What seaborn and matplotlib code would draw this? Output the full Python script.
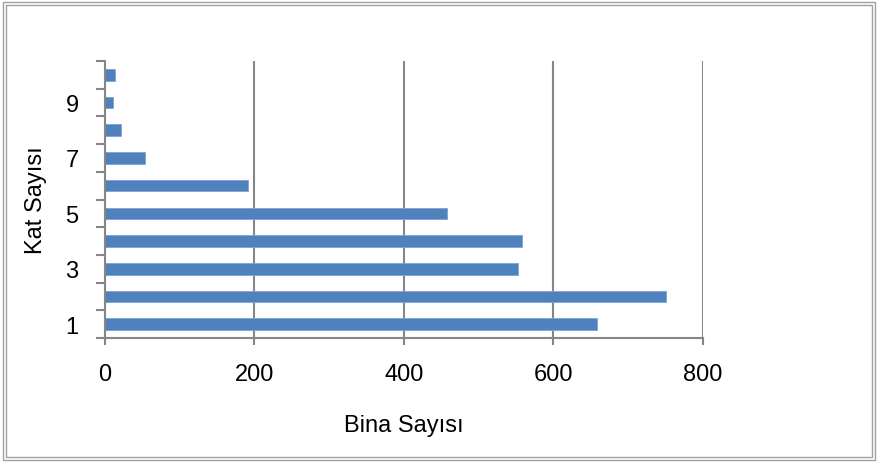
import matplotlib
matplotlib.use('Agg')
import pandas as pd
import seaborn as sns
import matplotlib.pyplot as plt
from matplotlib.patches import Rectangle

# data
floors = [1, 2, 3, 4, 5, 6, 7, 8, 9, 10]
counts = [658, 750, 552, 558, 457, 191, 53, 21, 11, 13]
x_ticks = [0, 200, 400, 600, 800]

df = pd.DataFrame({'kat': [str(f) for f in floors], 'bina': counts})
order = [str(f) for f in reversed(floors)]

sns.set_style('white')
plt.rcParams['font.family'] = ['Liberation Sans', 'DejaVu Sans']
plt.rcParams['text.color'] = 'black'
plt.rcParams['axes.labelcolor'] = 'black'
plt.rcParams['xtick.labelcolor'] = 'black'
plt.rcParams['ytick.labelcolor'] = 'black'
grey = '#868686'

fig = plt.figure(figsize=(8.78, 4.64), dpi=100)
ax = fig.add_axes([105/878, 1 - 339/464, 598/878, 277/464])

sns.barplot(data=df, x='bina', y='kat', order=order, orient='h',
            color='#4F81BD', saturation=1, width=0.42, linewidth=0.6,
            edgecolor='#7FA3D3', ax=ax)

ax.set_xlim(0, 800)
ax.set_xticks(x_ticks)
ax.set_ylim(len(floors) - 0.5, -0.5)
ax.set_yticks(range(len(floors)))
ax.set_yticklabels([f if int(f) % 2 == 1 else '' for f in order])
ax.set_yticks([i - 0.5 for i in range(len(floors) + 1)], minor=True)

ax.grid(axis='x', color=grey, linewidth=1.5)
ax.set_axisbelow(True)
sns.despine(ax=ax, top=True, right=True)
for s in ['left', 'bottom']:
    ax.spines[s].set_color(grey)
    ax.spines[s].set_linewidth(1.5)

ax.tick_params(axis='y', which='major', length=0, pad=19, labelsize=17)
ax.tick_params(axis='y', which='minor', left=True, length=6.5, width=1.5, color=grey)
ax.tick_params(axis='x', which='major', bottom=True, length=5, width=1.5, color=grey,
               pad=13, labelsize=17)

ax.set_xlabel('Bina Sayısı', fontsize=17, labelpad=21)
ax.set_ylabel('Kat Sayısı', fontsize=17, labelpad=13)

# double frame round the chart
for off in (3, 6):
    fig.patches.append(Rectangle((off/878, off/464), 1 - 2*off/878, 1 - 2*off/464,
                                 transform=fig.transFigure, fill=False,
                                 edgecolor='#a0a0a0', linewidth=1))

fig.savefig('out.png', dpi=100)
